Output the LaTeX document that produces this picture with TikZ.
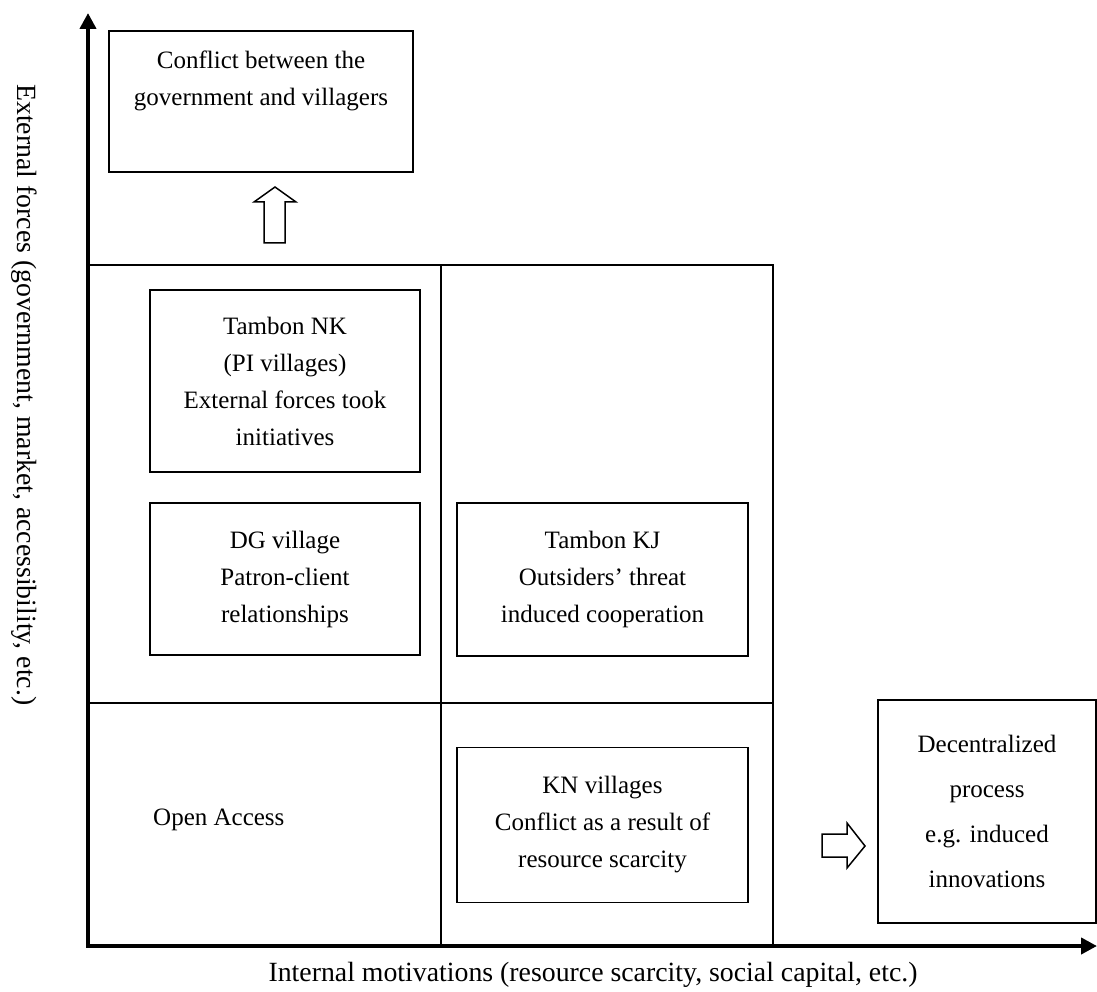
\documentclass[tikz,border=0pt]{standalone}
\usepackage{fontspec}
\setmainfont{Liberation Serif}
\usetikzlibrary{arrows.meta}
\begin{document}
\begin{tikzpicture}[x=1pt,y=-1pt,
  every node/.style={font=\fontsize{25}{37}\selectfont, inner sep=0pt},
  labelfont/.style={font=\fontsize{27.8}{34}\selectfont},
  boxnode/.style={draw, line width=1.5pt, align=center},
  gridline/.style={line width=1.6pt},
  axisline/.style={line width=4pt, -{Triangle[length=16pt,width=16pt]}},
  blockarrow/.style={draw, line width=1.5pt, line join=miter, fill=white}]
\useasboundingbox (0,0) rectangle (1097,992);
% grid
\coordinate (o) at (88,946);
\coordinate (gtl) at (88,265);
\coordinate (gtr) at (773,265);
\coordinate (gml) at (88,703);
\coordinate (gmr) at (773,703);
\coordinate (gvt) at (441,265);
\coordinate (gvb) at (441,946);
\coordinate (grb) at (773,946);
\draw[gridline] (gtl) -- (gtr) -- (grb);
\draw[gridline] (gml) -- (gmr);
\draw[gridline] (gvt) -- (gvb);
% axes
\coordinate (ytip) at (88,13);
\coordinate (xtip) at (1097,946);
\draw[axisline] ([yshift=2pt]o) -- (ytip);
\draw[axisline] ([xshift=-2pt]o) -- (xtip);
% boxes
\node[boxnode, minimum width=304pt, minimum height=141pt] (top) at (261,101.5) {};
\node[align=center] (toptext) at (261,81) {Conflict between the\\government and villagers};
\node[boxnode, minimum width=270pt, minimum height=182pt] (nk) at (285,381) {Tambon NK\\(PI villages)\\External forces took\\initiatives};
\node[boxnode, minimum width=270pt, minimum height=152pt] (dg) at (285,579) {DG village\\Patron-client\\relationships};
\node[boxnode, minimum width=291pt, minimum height=153pt] (kj) at (602.5,579.5) {Tambon KJ\\Outsiders' threat\\induced cooperation};
\node[boxnode, minimum width=291pt, minimum height=155pt] (kn) at (602.5,825) {KN villages\\Conflict as a result of\\resource scarcity};
\node[boxnode, minimum width=218pt, minimum height=223pt, font=\fontsize{25}{45}\selectfont] (dec) at (987,811.5) {Decentralized\\process\\e.g. induced\\innovations};
\node[anchor=west] (open) at (153,820) {Open Access};
% block arrows
\draw[blockarrow] (264,243) -- (264,202) -- (254,202) -- (275,187) -- (296,202) -- (285,202) -- (285,243) -- cycle;
\draw[blockarrow] (822,834) -- (847,834) -- (847,823) -- (865,846) -- (847,868) -- (847,857) -- (822,857) -- cycle;
% axis labels
\node[labelfont, rotate=-90, anchor=west] (ylab) at (24,84) {External forces (government, market, accessibility, etc.)};
\node[labelfont] (xlab) at (593,975) {Internal motivations (resource scarcity, social capital, etc.)};
\end{tikzpicture}
\end{document}
